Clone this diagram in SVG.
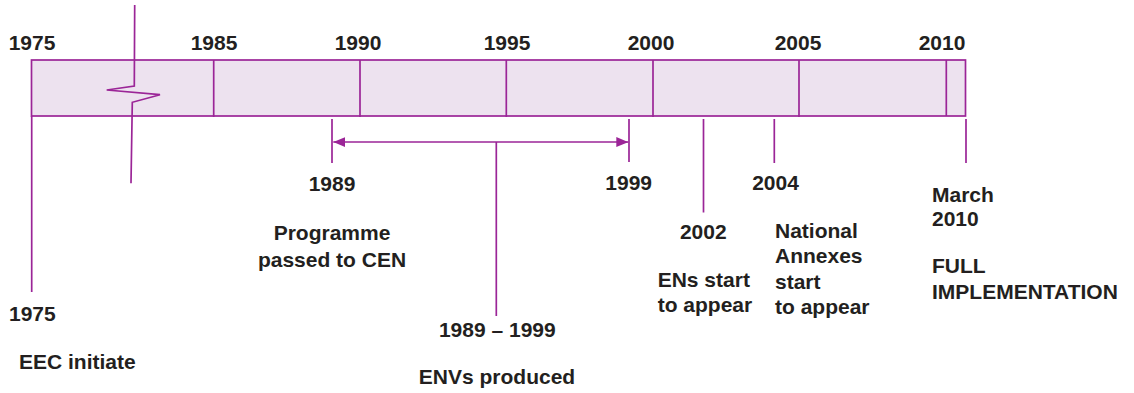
<svg xmlns="http://www.w3.org/2000/svg" width="1134" height="393" viewBox="0 0 1134 393">
<style>
.ln{stroke:#9b2597;stroke-width:1.7;fill:none}
.bar{stroke:#9b2597;stroke-width:1.7;fill:#ede2ef}
.t{font-family:"Liberation Sans",Arial,sans-serif;font-weight:bold;font-size:21px;fill:#231f20}
.m{text-anchor:middle}
</style>
<defs>
<marker id="ah" viewBox="0 0 12 10" refX="12" refY="5" markerWidth="12" markerHeight="10" markerUnits="userSpaceOnUse" orient="auto-start-reverse">
<path d="M0,0 L12,5 L0,10 Z" fill="#9b2597"/>
</marker>
</defs>
<g id="timeline-bar">
<rect class="bar" x="31.5" y="60" width="934" height="56"/>
<line class="ln" x1="213.7" y1="60" x2="213.7" y2="117"/>
<line class="ln" x1="360" y1="60" x2="360" y2="117"/>
<line class="ln" x1="506.3" y1="60" x2="506.3" y2="117"/>
<line class="ln" x1="653" y1="60" x2="653" y2="117"/>
<line class="ln" x1="799" y1="60" x2="799" y2="117"/>
<line class="ln" x1="946.3" y1="60" x2="946.3" y2="116"/>
</g>
<g id="axis-labels">
<text class="t m" x="32" y="50">1975</text>
<text class="t m" x="214" y="50">1985</text>
<text class="t m" x="358" y="50">1990</text>
<text class="t m" x="507" y="50">1995</text>
<text class="t m" x="651" y="50">2000</text>
<text class="t m" x="798" y="50">2005</text>
<text class="t m" x="942" y="50">2010</text>
</g>
<g id="connectors">
<polyline class="ln" points="134.7,5 134.3,86 106.7,90 160,94.7 132.3,102.3 131,183.3"/>
<line class="ln" x1="31.7" y1="116" x2="31.7" y2="292"/>
<line class="ln" x1="332" y1="119" x2="332" y2="163"/>
<line class="ln" x1="629" y1="119" x2="629" y2="162"/>
<line class="ln" x1="333.3" y1="142" x2="628.3" y2="142" marker-start="url(#ah)" marker-end="url(#ah)"/>
<line class="ln" x1="496.3" y1="142" x2="496.3" y2="316"/>
<line class="ln" x1="703.5" y1="119" x2="703.5" y2="212.5"/>
<line class="ln" x1="774.3" y1="119" x2="774.3" y2="163"/>
<line class="ln" x1="966" y1="119" x2="966" y2="163"/>
</g>
<g id="node-1975">
<text class="t" x="9" y="321">1975</text>
<text class="t" x="19" y="369">EEC initiate</text>
</g>
<g id="node-1989">
<text class="t m" x="332" y="191">1989</text>
<text class="t m" x="332" y="240">Programme</text>
<text class="t m" x="332" y="267">passed to CEN</text>
</g>
<g id="node-1999">
<text class="t m" x="628.7" y="190">1999</text>
</g>
<g id="node-1989-1999">
<text class="t m" x="497.3" y="336.5">1989 – 1999</text>
<text class="t m" x="497" y="384">ENVs produced</text>
</g>
<g id="node-2002">
<text class="t m" x="703.3" y="239">2002</text>
<text class="t" x="657.7" y="287">ENs start</text>
<text class="t" x="657.7" y="311.5">to appear</text>
</g>
<g id="node-2004">
<text class="t m" x="775.5" y="190">2004</text>
<text class="t" x="775" y="238">National</text>
<text class="t" x="775" y="263">Annexes</text>
<text class="t" x="775" y="289">start</text>
<text class="t" x="775" y="314">to appear</text>
</g>
<g id="node-2010">
<text class="t" x="932" y="201.5">March</text>
<text class="t" x="932" y="225.5">2010</text>
<text class="t" x="932" y="273">FULL</text>
<text class="t" x="932" y="299">IMPLEMENTATION</text>
</g>
</svg>
